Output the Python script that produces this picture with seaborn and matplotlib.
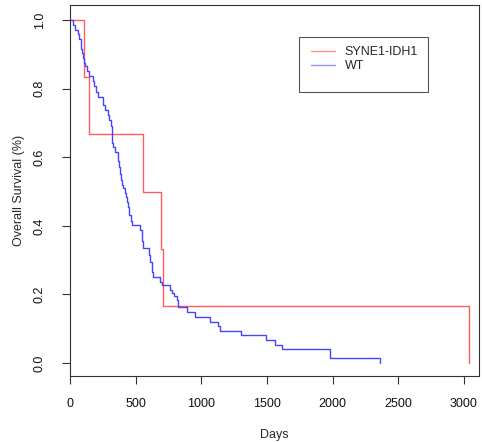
"""Kaplan-Meier style survival plot: SYNE1-IDH1 vs WT."""

import matplotlib
matplotlib.use("Agg")
import matplotlib.pyplot as plt
import matplotlib.patches as mpatches
from matplotlib.lines import Line2D
import pandas as pd
import seaborn as sns

# survival steps
syne_days = [0, 107, 145, 553, 691, 706, 3040]
syne_surv = [1.0, 0.8333, 0.6667, 0.5, 0.3333, 0.1667, 0.0]

wt_days = [0, 21, 38, 59, 69, 80, 86, 91, 99, 107,
           114, 130, 145, 175, 183, 198, 211, 248, 254, 267,
           290, 297, 312, 317, 322, 330, 343, 363, 368, 373,
           380, 386, 396, 406, 418, 427, 436, 444, 452, 462,
           470, 533, 546, 552, 558, 602, 609, 622, 628, 634,
           685, 698, 762, 779, 794, 812, 819, 825, 889, 952,
           1066, 1130, 1142, 1302, 1493, 1561, 1615, 1980, 2361]
wt_surv = [1.0, 0.986, 0.972, 0.958, 0.944, 0.93, 0.917, 0.903, 0.889, 0.875,
           0.866, 0.851, 0.837, 0.822, 0.808, 0.79, 0.776, 0.764, 0.752, 0.738,
           0.722, 0.708, 0.69, 0.665, 0.641, 0.63, 0.616, 0.603, 0.588, 0.572,
           0.55, 0.534, 0.52, 0.51, 0.497, 0.485, 0.47, 0.455, 0.431, 0.415,
           0.402, 0.388, 0.368, 0.355, 0.335, 0.315, 0.295, 0.277, 0.265, 0.252,
           0.236, 0.227, 0.213, 0.203, 0.194, 0.184, 0.174, 0.164, 0.150, 0.135,
           0.120, 0.107, 0.093, 0.082, 0.067, 0.052, 0.041, 0.015, 0.0]

groups = ["SYNE1-IDH1", "WT"]
colors = {"SYNE1-IDH1": "#ff5c5c", "WT": "#4545ff"}
x_ticks = [0, 500, 1000, 1500, 2000, 2500, 3000]
y_ticks = [0.0, 0.2, 0.4, 0.6, 0.8, 1.0]

df = pd.concat([
    pd.DataFrame({"days": syne_days, "surv": syne_surv, "group": groups[0]}),
    pd.DataFrame({"days": wt_days, "surv": wt_surv, "group": groups[1]}),
])

sns.set_style("white")
plt.rcParams["font.family"] = ["Liberation Sans", "DejaVu Sans"]

fig = plt.figure(figsize=(4.82, 4.42), dpi=100)
ax = fig.add_axes([70 / 482, 66 / 442, 409 / 482, 371 / 442])

sns.lineplot(data=df, x="days", y="surv", hue="group", palette=colors,
             drawstyle="steps-post", estimator=None, legend=False,
             linewidth=1.0, ax=ax)

ax.set_xlim(0, 3115)
ax.set_ylim(-0.038, 1.044)
ax.set_xticks(x_ticks)
ax.set_xticklabels([str(t) for t in x_ticks])
ax.set_yticks(y_ticks)
ax.set_yticklabels([f"{t:.1f}" for t in y_ticks], rotation=90, va="center")
ax.tick_params(axis="both", direction="out", length=5.5, width=0.8,
               color="#333333", labelsize=9, labelcolor="#111111",
               bottom=True, left=True, top=False, right=False)
ax.tick_params(axis="x", pad=10)
ax.tick_params(axis="y", pad=12)
ax.set_xlabel("Days", fontsize=9, labelpad=14)
ax.set_ylabel("Overall Survival (%)", fontsize=9, labelpad=6)
for sp in ax.spines.values():
    sp.set_visible(True)
    sp.set_color("#333333")
    sp.set_linewidth(0.8)

# R-style legend box
ax.add_patch(mpatches.Rectangle((0.560, 0.7655), 0.315, 0.148,
                                transform=ax.transAxes, fill=False,
                                edgecolor="#555555", linewidth=0.8))
handles = [Line2D([], [], color="#ff8f8f", linewidth=1.0),
           Line2D([], [], color="#8f8fff", linewidth=1.0)]
ax.legend(handles, groups, loc="upper left", bbox_to_anchor=(0.589, 0.889),
          frameon=False, fontsize=9, borderpad=0, borderaxespad=0,
          handlelength=1.9, handletextpad=0.8, labelspacing=0.15)

plt.savefig("out.png", dpi=100)
